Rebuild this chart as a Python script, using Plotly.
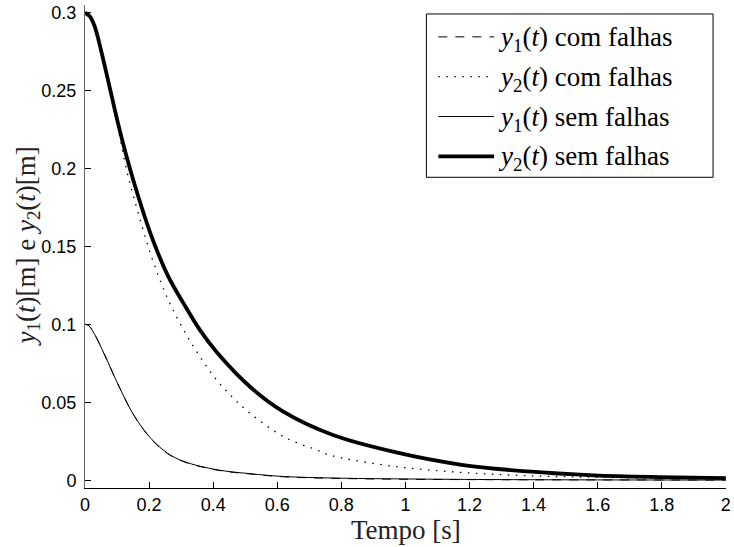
import plotly.graph_objects as go

# ---- data ----
t_y1_com = [0, 0.01, 0.029, 0.06, 0.102, 0.153, 0.205, 0.257, 0.309, 0.412, 0.515, 0.619, 0.774, 1.0, 1.3, 1.6, 2.0]
y1_com = [0.1, 0.0995, 0.094, 0.081, 0.062, 0.0415, 0.0268, 0.0172, 0.0118, 0.0065, 0.0040, 0.0022, 0.0012, 0.0006, 0.0003, 0.0002, 0.0001]

t_y2_com = [0, 0.014, 0.029, 0.05, 0.076, 0.102, 0.131, 0.153, 0.205, 0.257, 0.309, 0.36, 0.412, 0.464, 0.515, 0.619, 0.722, 0.77, 0.968, 1.175, 1.381, 1.588, 1.794, 2.0]
y2_com = [0.3, 0.298, 0.292, 0.276, 0.252, 0.227, 0.198, 0.181, 0.145, 0.117, 0.096, 0.079, 0.064, 0.0525, 0.043, 0.028, 0.0195, 0.0158, 0.0088, 0.005, 0.0029, 0.0019, 0.0013, 0.001]

t_y1_sem = [0, 0.01, 0.029, 0.06, 0.102, 0.153, 0.205, 0.257, 0.309, 0.412, 0.515, 0.619, 0.774, 1.0, 1.3, 1.6, 2.0]
y1_sem = [0.1, 0.0995, 0.094, 0.081, 0.062, 0.0415, 0.027, 0.0174, 0.012, 0.0067, 0.0042, 0.0024, 0.0014, 0.0008, 0.0004, 0.0002, 0.0001]

t_y2_sem = [0, 0.014, 0.029, 0.05, 0.076, 0.102, 0.128, 0.153, 0.205, 0.257, 0.309, 0.36, 0.412, 0.515, 0.619, 0.774, 0.968, 1.175, 1.381, 1.588, 1.794, 2.0]
y2_sem = [0.3, 0.298, 0.292, 0.276, 0.253, 0.230, 0.209, 0.191, 0.158, 0.132, 0.113, 0.096, 0.082, 0.060, 0.044, 0.029, 0.0180, 0.0099, 0.0056, 0.0031, 0.0020, 0.0014]

x_ticks = [0, 0.2, 0.4, 0.6, 0.8, 1.0, 1.2, 1.4, 1.6, 1.8, 2.0]
x_ticktext = ["0", "0.2", "0.4", "0.6", "0.8", "1", "1.2", "1.4", "1.6", "1.8", "2"]
y_ticks = [0, 0.05, 0.1, 0.15, 0.2, 0.25, 0.3]
y_ticktext = ["0", "0.05", "0.1", "0.15", "0.2", "0.25", "0.3"]

legend_labels = [
    "<i>y</i><sub>1</sub>(<i>t</i>) com falhas",
    "<i>y</i><sub>2</sub>(<i>t</i>) com falhas",
    "<i>y</i><sub>1</sub>(<i>t</i>) sem falhas",
    "<i>y</i><sub>2</sub>(<i>t</i>) sem falhas",
]

styles = [
    dict(width=1, dash="9px,8px"),
    dict(width=1.3, dash="1.5px,6.5px"),
    dict(width=1, dash="solid"),
    dict(width=3.8, dash="solid"),
]

series = [(t_y1_com, y1_com), (t_y2_com, y2_com), (t_y1_sem, y1_sem), (t_y2_sem, y2_sem)]

fig = go.Figure()
for (tx, ty), st, name in zip(series, styles, legend_labels):
    fig.add_trace(go.Scatter(x=tx, y=ty, mode="lines", name=name, showlegend=False,
                             line=dict(color="black", width=st["width"], dash=st["dash"],
                                       shape="spline", smoothing=1.0)))

W, H = 734, 547
L, R, T, B = 85, 5, 3, 59
pw, ph = W - L - R, H - T - B

def px(x):
    return (x - L) / pw

def py(y):
    return (H - B - y) / ph

serif = "Liberation Serif"
sans = "Liberation Sans"

shapes = [dict(type="rect", xref="paper", yref="paper", x0=px(428), x1=px(716), y0=py(176), y1=py(12),
               line=dict(color="black", width=1), fillcolor="white", layer="above")]
annotations = []
rows = [35, 75, 115, 155]
for ry, st, lab in zip(rows, styles, legend_labels):
    shapes.append(dict(type="line", xref="paper", yref="paper", x0=px(440), x1=px(496), y0=py(ry), y1=py(ry),
                       line=dict(color="black", width=st["width"], dash=st["dash"]), layer="above"))
    annotations.append(dict(text=lab, xref="paper", yref="paper", x=px(498), y=py(ry), xanchor="left",
                            yanchor="middle", showarrow=False, yshift=-2,
                            font=dict(family=serif, size=27, color="black")))

annotations.append(dict(text="Tempo [s]", xref="paper", yref="paper", x=0.5, y=0, xanchor="center",
                        yanchor="middle", yshift=-42, showarrow=False,
                        font=dict(family=serif, size=27, color="#222")))
annotations.append(dict(text="<i>y</i><sub>1</sub>(<i>t</i>)[m] e <i>y</i><sub>2</sub>(<i>t</i>)[m]",
                        xref="paper", yref="paper", x=0, y=0.5, xanchor="center", yanchor="middle",
                        xshift=-58, textangle=-90, showarrow=False,
                        font=dict(family=serif, size=27, color="#222")))

fig.update_layout(
    width=W, height=H,
    margin=dict(l=L, r=R, t=T, b=B),
    paper_bgcolor="white", plot_bgcolor="white",
    showlegend=False,
    shapes=shapes, annotations=annotations,
    xaxis=dict(range=[0, 2.0005], tickmode="array", tickvals=x_ticks, ticktext=x_ticktext,
               ticks="inside", ticklen=6, tickcolor="black", tickwidth=1,
               showline=True, linecolor="black", linewidth=1, showgrid=False, zeroline=False,
               ticklabeloverflow="allow",
               tickfont=dict(family=sans, size=18, color="black")),
    yaxis=dict(range=[-0.005, 0.305], tickmode="array", tickvals=y_ticks, ticktext=y_ticktext,
               ticks="inside", ticklen=6, tickcolor="black", tickwidth=1,
               showline=True, linecolor="#666", linewidth=1, showgrid=False, zeroline=False,
               ticklabelstandoff=4,
               tickfont=dict(family=sans, size=18, color="black")),
)

fig.write_html("out.html")
